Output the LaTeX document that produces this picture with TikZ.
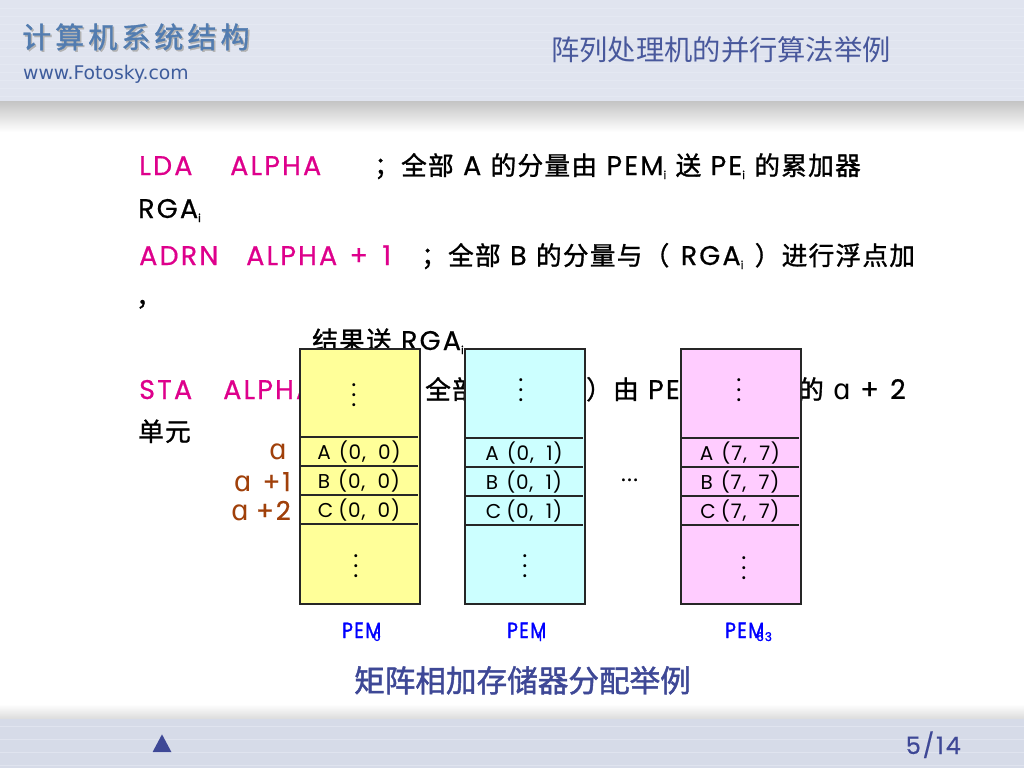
\documentclass[tikz,border=0pt]{standalone}
\usepackage{fontspec}
\setmainfont{Poppins}
\newfontfamily\gothic[LetterSpace=8, FakeBold=0.6]{Poppins}
\newfontfamily\gothicpem[LetterSpace=8, FakeBold=1.6]{Poppins}
\newfontfamily\gothiccell[LetterSpace=4]{Poppins}
\newfontfamily\cjk[Scale=0.95, LetterSpace=5, FakeBold=1.2]{Noto Sans CJK SC}
\newfontfamily\cjkplain{Noto Sans CJK SC}
\newfontfamily\cjkcap[FakeBold=1.5]{Noto Sans CJK SC}
\newfontfamily\cjkwide[LetterSpace=14, FakeBold=1.2]{Noto Sans CJK SC}
\newfontfamily\alfont{DejaVu Sans}
\usetikzlibrary{positioning, calc, shapes.geometric}
\definecolor{hdblue}{RGB}{224, 228, 239}
\definecolor{ftblue}{RGB}{214, 219, 232}
\definecolor{stripe}{RGB}{228, 232, 242}
\definecolor{logoblue}{RGB}{82, 124, 176}
\definecolor{urlblue}{RGB}{62, 92, 156}
\definecolor{titleblue}{RGB}{72, 88, 156}
\definecolor{capblue}{RGB}{62, 72, 150}
\definecolor{opmagenta}{RGB}{222, 0, 140}
\definecolor{addrbrown}{RGB}{160, 64, 10}
\definecolor{pemyellow}{RGB}{255, 255, 153}
\definecolor{pemcyan}{RGB}{204, 255, 255}
\definecolor{pempink}{RGB}{255, 204, 255}
\newcommand{\zh}[1]{{\cjk #1}}
\newcommand{\subi}{\raisebox{-4pt}{\fontsize{11}{11}\selectfont i}}
\newcommand{\alf}{{\fontsize{28}{28}\selectfont\alfont ɑ}}
\newcommand{\pemname}{\scalebox{0.84}[1]{PEM}}
\newcommand{\subpem}[1]{\kern-8pt\raisebox{-3pt}{\fontsize{12}{12}\selectfont #1}}
\tikzset{
  codeline/.style={anchor=base west, inner sep=0pt, font=\fontsize{27}{27}\selectfont\gothic},
  opline/.style={codeline, text=opmagenta},
  addr/.style={anchor=base east, inner sep=0pt, text=addrbrown, font=\fontsize{26}{26}\selectfont\gothic},
  cell/.style={anchor=center, inner sep=0pt, font=\fontsize{20}{20}\selectfont\gothiccell},
  pemlabel/.style={anchor=base west, inner sep=0pt, text=blue, font=\fontsize{22}{22}\selectfont\gothicpem},
  dots/.style={anchor=center, inner sep=0pt, scale=2.4, font=\fontsize{10}{10}\selectfont},
  memcol/.style={draw=black!85, line width=1.6pt}
}

\begin{document}
\begin{tikzpicture}[x=1pt, y=-1pt]
  \useasboundingbox (0,0) rectangle (1024,768);

  % --- page, header and footer bands ---
  \fill[white] (0,0) rectangle (1024,768);
  \shade[top color=black!24, bottom color=white] (0,100) rectangle (1024,132);
  \shade[top color=white, bottom color=black!14] (0,704) rectangle (1024,719);
  \fill[hdblue] (0,0) rectangle (1024,101);
  \fill[ftblue] (0,719) rectangle (1024,768);
  \foreach \y in {8,16,...,96}
    \draw[stripe, line width=0.8pt] (0,\y) -- (1024,\y);
  \foreach \y in {726,739,752,765}
    \draw[hdblue, line width=0.8pt] (0,\y) -- (1024,\y);

  % --- header text ---
  \node[anchor=base west, inner sep=0pt, text=black!30, font=\fontsize{29}{29}\selectfont]
    (logoshadow) at (23.5,49.5) {\cjkwide 计算机系统结构};
  \node[anchor=base west, inner sep=0pt, text=logoblue, font=\fontsize{29}{29}\selectfont]
    (logo) at (22,48) {\cjkwide 计算机系统结构};
  \node[anchor=base west, inner sep=0pt, text=urlblue, font=\fontsize{18.8}{18}\selectfont\alfont]
    (url) at (23,79) {www.Fotosky.com};
  \node[anchor=base west, inner sep=0pt, text=titleblue, font=\fontsize{28.3}{28}\selectfont\cjkplain]
    (title) at (551,60) {阵列处理机的并行算法举例};

  % --- instruction lines, the memory columns lie over them ---
  \node[opline] (lda) at (139,175) {LDA};
  \node[opline] (ldaarg) at (230,175) {ALPHA};
  \node[codeline] (ldatxt) at (374,175)
    {\zh{；全部} A \zh{的分量由} PEM\subi\ \zh{送} PE\subi\ \zh{的累加器}};
  \node[codeline] (ldawrap) at (138,218) {RGA\subi};
  \node[opline] (adrn) at (139,265) {ADRN};
  \node[opline] (adrnarg) at (246,265) {ALPHA\kern3pt\ +\kern5pt\ 1};
  \node[codeline] (adrntxt) at (421,265)
    {\zh{；全部} B \zh{的分量与（}\kern2pt\ RGA\subi\ \kern2pt\zh{）进行浮点加}};
  \node[codeline] (adrncomma) at (136,306) {\zh{，}};
  \node[codeline] (adrnwrap) at (312,350) {\zh{结果送} RGA\subi};
  \node[opline] (sta) at (139,399) {STA};
  \node[opline] (staarg) at (223,399) {ALPHA};
  \node[codeline] (statxt) at (425,399) {\zh{全部}};
  \node[codeline] (statxtb) at (586,399) {\zh{）由} PE};
  \node[codeline] (statxtc) at (798,399) {\zh{的} \alf\ +\kern2pt\ 2};
  \node[codeline] (stawrap) at (138,441) {\zh{单元}};

  % --- address labels ---
  \node[addr] (adra) at (287,459) {\alf};
  \node[addr] (adrb) at (291,491) {\alf\kern2pt\ +1};
  \node[addr] (adrc) at (291,520) {\alf\kern-2pt\ +2};

  % --- memory columns ---
  \foreach \x/\yo/\colr/\nm/\i/\j in {
    300/0/pemyellow/pema/0/0,
    465/1/pemcyan/pemb/0/1,
    681/1/pempink/pemc/7/7}
  {
    \draw[memcol, fill=\colr] (\x,349) rectangle (\x+120,604);
    \foreach \ly in {437,466,495,524}
      \draw[black!85, line width=1.4pt] (\x,\ly+\yo) -- (\x+118,\ly+\yo);
    \node[cell] (\nm a) at (\x+59,452.5+\yo) {A\hspace{8pt}(\i, \ \j)};
    \node[cell] (\nm b) at (\x+59,481.5+\yo) {B\hspace{8pt}(\i, \ \j)};
    \node[cell] (\nm c) at (\x+59,510.5+\yo) {C\hspace{5pt}(\i, \ \j)};
  }

  % --- elided rows ---
  \node[dots] (dotsaup) at (354,388) {$\vdots$};
  \node[dots] (dotsalo) at (356,559) {$\vdots$};
  \node[dots] (dotsbup) at (521,383) {$\vdots$};
  \node[dots] (dotsblo) at (525,559) {$\vdots$};
  \node[dots] (dotscup) at (739,383) {$\vdots$};
  \node[dots] (dotsclo) at (744,561) {$\vdots$};
  \node[anchor=base, inner sep=0pt, font=\fontsize{21}{21}\selectfont\gothic]
    (dotsmid) at (629.5,481) {...};

  % --- column captions ---
  \node[pemlabel] (pemalbl) at (342,638) {\pemname\subpem{0}};
  \node[pemlabel] (pemblbl) at (507,638) {\pemname\subpem{1}};
  \node[pemlabel] (pemclbl) at (725,638) {\pemname\subpem{63}};
  \node[anchor=base west, inner sep=0pt, text=capblue, font=\fontsize{30.6}{30}\selectfont\cjkcap]
    (caption) at (354,692) {矩阵相加存储器分配举例};

  % --- footer ---
  \node[isosceles triangle, isosceles triangle apex angle=56, shape border rotate=90,
    fill=capblue, inner sep=0pt, minimum height=17pt, minimum width=19pt]
    (nav) at (162,746.5) {};
  \node[anchor=base east, inner sep=0pt, text=capblue, font=\fontsize{24}{24}\selectfont\gothic]
    (pageno) at (961,754) {5/14};
\end{tikzpicture}
\end{document}
